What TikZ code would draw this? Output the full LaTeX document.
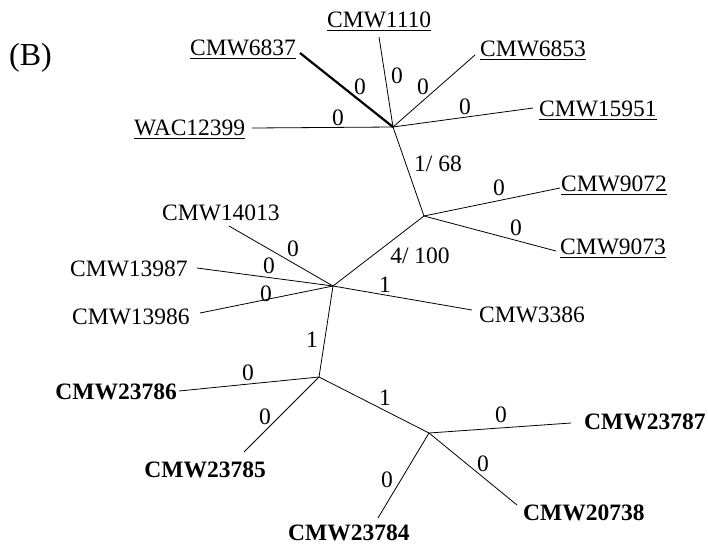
\documentclass[tikz,border=0pt]{standalone}
\usepackage{fontspec}
\setmainfont{Liberation Serif}
\newcommand\ulbox[1]{\setbox0=\hbox{#1}\rlap{\rule[-4pt]{\wd0}{1.5pt}}\box0}
\tikzset{
  edge/.style={line width=0.8pt},
  thickedge/.style={line width=2.2pt},
  lbl/.style={inner sep=0pt, font=\fontsize{23.5}{28}\selectfont},
  leafw/.style={lbl, anchor=base west},
  leafe/.style={lbl, anchor=base east},
  bleafw/.style={lbl, anchor=base west, font=\fontsize{23.5}{28}\selectfont\bfseries},
  bleafe/.style={lbl, anchor=base east, font=\fontsize{23.5}{28}\selectfont\bfseries},
  num/.style={lbl, anchor=center}
}
\begin{document}
\begin{tikzpicture}[x=1pt,y=-1pt]
\useasboundingbox (0,0) rectangle (708,549);
% internal nodes
\coordinate (A) at (393,127);
\coordinate (B) at (424,216);
\coordinate (C) at (333,286);
\coordinate (D) at (319,377);
\coordinate (E) at (429,433);
% leaf ends
\coordinate (e1110) at (379,37);
\coordinate (e6837) at (300,53);
\coordinate (eWAC) at (252,128);
\coordinate (e6853) at (475,55);
\coordinate (e15951) at (533,108);
\coordinate (e9072) at (560,188);
\coordinate (e9073) at (556,251);
\coordinate (e14013) at (229,226);
\coordinate (e13987) at (197,268);
\coordinate (e13986) at (200,313);
\coordinate (e3386) at (472,310);
\coordinate (e23786) at (179,391);
\coordinate (e23785) at (244,452);
\coordinate (e23787) at (571,423);
\coordinate (e20738) at (517,505);
\coordinate (e23784) at (378,518);
% edges
\draw[edge] (A) -- (e1110);
\draw[thickedge] (A) -- (e6837);
\draw[edge] (A) -- (eWAC);
\draw[edge] (A) -- (e6853);
\draw[edge] (A) -- (e15951);
\draw[edge] (A) -- (B);
\draw[edge] (B) -- (e9072);
\draw[edge] (B) -- (e9073);
\draw[edge] (B) -- (C);
\draw[edge] (C) -- (e14013);
\draw[edge] (C) -- (e13987);
\draw[edge] (C) -- (e13986);
\draw[edge] (C) -- (e3386);
\draw[edge] (C) -- (D);
\draw[edge] (D) -- (e23786);
\draw[edge] (D) -- (e23785);
\draw[edge] (D) -- (E);
\draw[edge] (E) -- (e23787);
\draw[edge] (E) -- (e20738);
\draw[edge] (E) -- (e23784);
% leaf labels
\node[leafw] (t1110) at (327,27) {\ulbox{CMW1110}};
\node[leafw] (t6837) at (190,55) {\ulbox{CMW6837}};
\node[leafw] (tWAC) at (134,135) {\ulbox{WAC12399}};
\node[leafw] (t6853) at (480,56) {\ulbox{CMW6853}};
\node[leafw] (t15951) at (539,116) {\ulbox{CMW15951}};
\node[leafw] (t9072) at (561,191) {\ulbox{CMW9072}};
\node[leafw] (t9073) at (560,254) {\ulbox{CMW9073}};
\node[leafw] (t14013) at (162,220) {CMW14013};
\node[leafw] (t13987) at (70,276) {CMW13987};
\node[leafw] (t13986) at (72,324) {CMW13986};
\node[leafw] (t3386) at (479,322) {CMW3386};
\node[bleafe] (t23786) at (177,399) {CMW23786};
\node[bleafe] (t23785) at (266,477) {CMW23785};
\node[bleafw] (t23784) at (288,540) {CMW23784};
\node[bleafw] (t23787) at (584,429) {CMW23787};
\node[bleafw] (t20738) at (523,520) {CMW20738};
% branch labels
\node[num] (n1) at (397,76) {0};
\node[num] (n2) at (423,87) {0};
\node[num] (n3) at (465,107) {0};
\node[num] (n4) at (360,87) {0};
\node[num] (n5) at (338,118) {0};
\node[num] (n6) at (438,164) {1/ 68};
\node[num] (n7) at (499,188) {0};
\node[num] (n8) at (516,228) {0};
\node[num] (n9) at (420,256) {4/ 100};
\node[num] (n10) at (293,249) {0};
\node[num] (n11) at (269,266) {0};
\node[num] (n12) at (266,294) {0};
\node[num] (n13) at (385,285) {1};
\node[num] (n14) at (312,340) {1};
\node[num] (n15) at (248,373) {0};
\node[num] (n16) at (265,417) {0};
\node[num] (n17) at (385,398) {1};
\node[num] (n18) at (501,415) {0};
\node[num] (n19) at (483,464) {0};
\node[num] (n20) at (387,480) {0};
\node[lbl, anchor=base west, font=\fontsize{32}{38}\selectfont] (title) at (9,65) {(B)};
\end{tikzpicture}
\end{document}
